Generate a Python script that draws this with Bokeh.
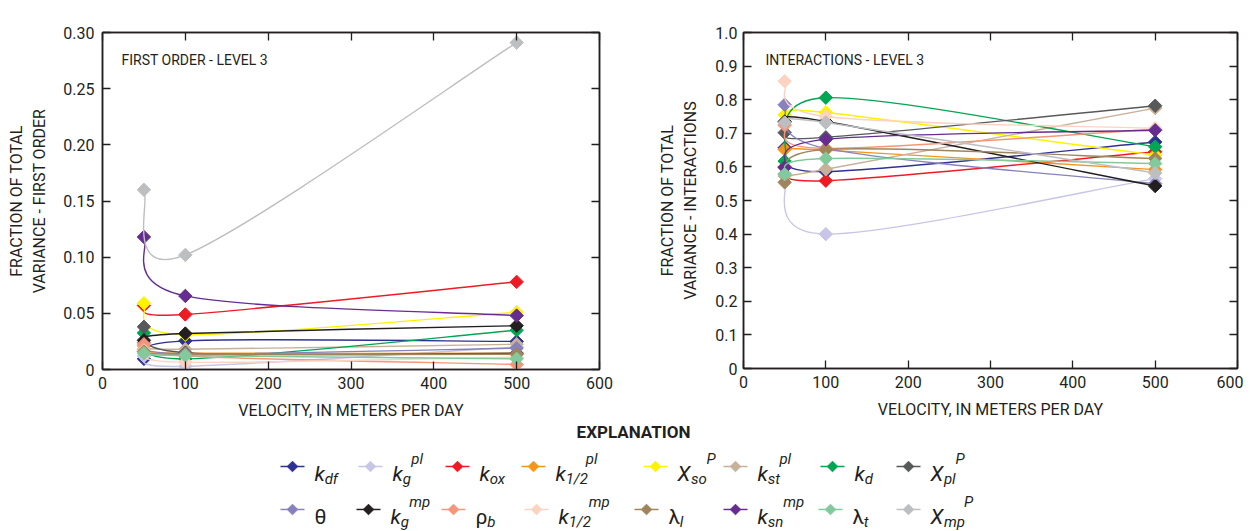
from bokeh.plotting import figure
from bokeh.models import Range1d, FixedTicker, LinearAxis, Label, ColumnDataSource
from bokeh.layouts import column, row
from bokeh.core.properties import value
from bokeh.embed import file_html
from bokeh.resources import INLINE

# ---------------- data ----------------
velocity = [50, 100, 500]

series = ["k_df", "k_g^pl", "k_ox", "k_1/2^pl", "X_so^P", "k_st^pl", "k_d", "X_pl^P",
          "theta", "k_g^mp", "rho_b", "k_1/2^mp", "lambda_l", "k_sn^mp", "lambda_t", "X_mp^P"]

colors = ["#2e3192", "#c8c6e6", "#ed1c24", "#f7941d", "#fff200", "#c7b299", "#00a651", "#58595b",
          "#8781bd", "#231f20", "#f69679", "#fcd3c1", "#a0845c", "#662d91", "#82ca9c", "#bcbec0"]

# fraction of total variance - first order (at 50, 100, 500 m/d)
first_order = [
    [0.0095, 0.0255, 0.025],
    [0.012, 0.0028, 0.020],
    [0.057, 0.049, 0.078],
    [0.018, 0.0145, 0.0145],
    [0.059, 0.031, 0.051],
    [0.021, 0.018, 0.0225],
    [0.0325, 0.0095, 0.035],
    [0.038, 0.015, 0.0145],
    [0.024, 0.014, 0.019],
    [0.026, 0.032, 0.039],
    [0.0225, 0.012, 0.0045],
    [0.017, 0.0065, 0.011],
    [0.016, 0.0135, 0.0135],
    [0.118, 0.0655, 0.048],
    [0.0145, 0.0125, 0.0095],
    [0.160, 0.102, 0.291],
]

# fraction of total variance - interactions
interactions = [
    [0.657, 0.586, 0.674],
    [0.580, 0.400, 0.565],
    [0.600, 0.559, 0.645],
    [0.652, 0.650, 0.592],
    [0.755, 0.762, 0.635],
    [0.573, 0.593, 0.775],
    [0.617, 0.806, 0.660],
    [0.702, 0.688, 0.782],
    [0.785, 0.655, 0.550],
    [0.735, 0.735, 0.543],
    [0.724, 0.655, 0.712],
    [0.855, 0.750, 0.715],
    [0.554, 0.652, 0.625],
    [0.598, 0.682, 0.709],
    [0.578, 0.625, 0.610],
    [0.732, 0.732, 0.582],
]

x_ticks = [0, 100, 200, 300, 400, 500, 600]
x_tick_labels = ["0", "100", "200", "300", "400", "500", "600"]
ya_ticks = [0, 0.05, 0.10, 0.15, 0.20, 0.25, 0.30]
ya_tick_labels = ["0", "0.05", "0.10", "0.15", "0.20", "0.25", "0.30"]
yb_ticks = [0, 0.1, 0.2, 0.3, 0.4, 0.5, 0.6, 0.7, 0.8, 0.9, 1.0]
yb_tick_labels = ["0", "0.1", "0.2", "0.3", "0.4", "0.5", "0.6", "0.7", "0.8", "0.9", "1.0"]

legend_main = ["k", "k", "k", "k", "X", "k", "k", "X", "\u03b8", "k", "\u03c1", "k", "\u03bb", "k", "\u03bb", "X"]
legend_sub = ["df", "g", "ox", "1/2", "so", "st", "d", "pl", "", "g", "b", "1/2", "l", "sn", "t", "mp"]
legend_sup = ["", "pl", "", "pl", "P", "pl", "", "P", "", "mp", "", "mp", "", "mp", "", "P"]

FONT = "Roboto"
INK = "#231f20"


def smooth_segments(xs, ys):
    """Bezier control points (Catmull-Rom style smoothing) between data points."""
    n = len(xs)
    out = dict(x0=[], y0=[], x1=[], y1=[], cx0=[], cy0=[], cx1=[], cy1=[])
    for i in range(n - 1):
        a = i - 1 if i > 0 else 0
        b = i + 2 if i + 2 < n else n - 1
        out["x0"].append(xs[i]); out["y0"].append(ys[i])
        out["x1"].append(xs[i + 1]); out["y1"].append(ys[i + 1])
        out["cx0"].append(xs[i] + (xs[i + 1] - xs[a]) / 6.0)
        out["cy0"].append(ys[i] + (ys[i + 1] - ys[a]) / 6.0)
        out["cx1"].append(xs[i + 1] - (xs[b] - xs[i]) / 6.0)
        out["cy1"].append(ys[i + 1] - (ys[b] - ys[i]) / 6.0)
    return out


def style_axis(ax, ticks, labels, show_labels=True):
    ax.ticker = FixedTicker(ticks=ticks)
    ax.major_label_overrides = {t: (l if show_labels else "") for t, l in zip(ticks, labels)}
    ax.major_tick_in = 8
    ax.major_tick_out = 0
    ax.minor_tick_in = 0
    ax.minor_tick_out = 0
    ax.axis_line_color = INK
    ax.axis_line_width = 1.5
    ax.major_tick_line_color = INK
    ax.major_tick_line_width = 1.3
    ax.major_label_text_font = FONT
    ax.major_label_text_font_size = "16px"
    ax.major_label_text_color = INK
    ax.axis_label_text_font = FONT
    ax.axis_label_text_font_size = "16px"
    ax.axis_label_text_font_style = "normal"
    ax.axis_label_text_color = INK


def make_panel(data, ymax, yticks, ylabels, ylabel, inner, letter,
               mb_left, fw, fh, mb_right, label_standoff, y_label_standoff, inner_dx):
    p = figure(frame_width=fw, frame_height=fh, x_range=Range1d(0, 600), y_range=Range1d(0, ymax),
               output_backend="svg", toolbar_location=None,
               min_border_left=mb_left, min_border_right=mb_right, min_border_top=32, min_border_bottom=50)
    p.xgrid.visible = False
    p.ygrid.visible = False
    p.outline_line_color = INK
    p.outline_line_width = 1.5
    style_axis(p.xaxis[0], x_ticks, x_tick_labels)
    style_axis(p.yaxis[0], yticks, ylabels)
    p.xaxis[0].axis_label = "VELOCITY, IN METERS PER DAY"
    p.xaxis[0].major_label_standoff = 7
    p.xaxis[0].axis_label_standoff = 9
    p.yaxis[0].axis_label = ylabel
    p.yaxis[0].major_label_standoff = label_standoff
    p.yaxis[0].axis_label_standoff = y_label_standoff
    top = LinearAxis()
    style_axis(top, x_ticks, x_tick_labels, show_labels=False)
    top.major_label_standoff = 0
    p.add_layout(top, "above")
    right = LinearAxis()
    style_axis(right, yticks, ylabels, show_labels=False)
    right.major_label_standoff = 0
    p.add_layout(right, "right")

    for vals, col in zip(data, colors):
        seg = smooth_segments(velocity, vals)
        p.bezier(source=ColumnDataSource(seg), x0="x0", y0="y0", x1="x1", y1="y1",
                 cx0="cx0", cy0="cy0", cx1="cx1", cy1="cy1", line_color=col, line_width=1.4)
        p.scatter(velocity, vals, marker="square", size=9.5, angle=0.785398,
                  fill_color=col, line_color=col, line_width=1)

    p.add_layout(Label(x=0, y=ymax, x_offset=inner_dx, y_offset=-27, text=inner,
                       text_font=FONT, text_font_size="14px", text_color=INK,
                       text_baseline="alphabetic"))
    p.add_layout(Label(x=600, y=ymax, y_offset=4, text=letter, text_align="right",
                       text_baseline="bottom", text_font=FONT, text_font_size="19px",
                       text_color=INK))
    return p


pa = make_panel(first_order, 0.30, ya_ticks, ya_tick_labels,
                "FRACTION OF TOTAL\nVARIANCE - FIRST ORDER", "FIRST ORDER - LEVEL 3", "A",
                mb_left=102, fw=497, fh=337, mb_right=20, label_standoff=8, y_label_standoff=11,
                inner_dx=19)
pb = make_panel(interactions, 1.0, yb_ticks, yb_tick_labels,
                "FRACTION OF TOTAL\nVARIANCE - INTERACTIONS", "INTERACTIONS - LEVEL 3", "B",
                mb_left=124, fw=494, fh=336, mb_right=6, label_standoff=6, y_label_standoff=12,
                inner_dx=22)

# ---------------- legend ----------------
LW, LH = 1250, 112
leg = figure(width=LW, height=LH, x_range=Range1d(0, LW), y_range=Range1d(LH, 0),
             output_backend="svg", toolbar_location=None, min_border=0)
leg.axis.visible = False
leg.grid.visible = False
leg.outline_line_color = None

leg.text(x=[633], y=[9], text=["EXPLANATION"], text_font=value(FONT), text_font_size=value("17px"),
         text_font_style="bold", text_align="center", text_baseline="middle", text_color=INK)

item_x = [292, 370, 457, 533, 655, 735, 832, 908,
          292, 368, 453, 536, 646, 735, 830, 908]
row_y = [44, 87]

W = {"k": .5, "d": .556, "f": .278, "g": .556, "p": .556, "l": .222, "o": .556, "x": .5, "1": .556,
     "/": .278, "2": .556, "s": .5, "t": .278, "n": .556, "m": .833, "b": .556, "X": .667, "P": .667,
     "\u03b8": .58, "\u03c1": .58, "\u03bb": .56}


def tw(s, size):
    return sum(W.get(c, .55) for c in s) * size * 0.92


lx0, lx1, ly, mx, my, mc = [], [], [], [], [], []
main_x, main_y, main_t, main_style = [], [], [], []
sub_x, sub_y, sub_t = [], [], []
sup_x, sup_y, sup_t = [], [], []
for i in range(len(series)):
    cx = item_x[i]
    cy = row_y[i // 8]
    lx0.append(cx - 12); lx1.append(cx + 12); ly.append(cy)
    mx.append(cx); my.append(cy); mc.append(colors[i])
    tx = cx + 22
    base = cy + 7
    main_x.append(tx); main_y.append(base); main_t.append(legend_main[i])
    main_style.append("italic" if legend_main[i] in ("k", "X") else "normal")
    w = tw(legend_main[i], 21)
    sub_x.append(tx + w + 0.5); sub_y.append(base + 5); sub_t.append(legend_sub[i])
    ws = tw(legend_sub[i], 15)
    sup_x.append(tx + w + ws + 1.5); sup_y.append(base - 15); sup_t.append(legend_sup[i])

leg.segment(x0=lx0, y0=ly, x1=lx1, y1=ly, line_color=mc, line_width=1.4)
leg.scatter(mx, my, marker="square", size=7.5, angle=0.785398, fill_color=mc, line_color=mc)
leg.text(source=ColumnDataSource(dict(x=main_x, y=main_y, t=main_t, s=main_style)), x="x", y="y",
         text="t", text_font=value(FONT), text_font_size=value("21px"), text_font_style="s",
         text_baseline="alphabetic", text_color=INK)
leg.text(x=sub_x, y=sub_y, text=sub_t, text_font=value(FONT), text_font_size=value("15px"),
         text_font_style="italic", text_baseline="alphabetic", text_color=INK)
leg.text(x=sup_x, y=sup_y, text=sup_t, text_font=value(FONT), text_font_size=value("15px"),
         text_font_style="italic", text_baseline="alphabetic", text_color=INK)

layout = column(row(pa, pb), leg)
open("out.html", "w").write(file_html(layout, INLINE))
